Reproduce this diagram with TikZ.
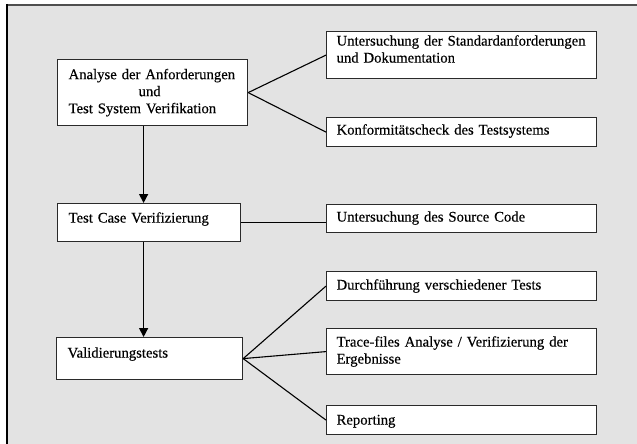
\documentclass[tikz,border=0pt]{standalone}
\usepackage{fontspec}
\setmainfont{Liberation Serif}[UprightFeatures={FakeBold=0.35}]
\usetikzlibrary{arrows.meta}
\definecolor{paneltint}{HTML}{E3E3E3}
\definecolor{framedark}{HTML}{4F4F4F}
\definecolor{boxline}{HTML}{2A2A2A}

\begin{document}
\begin{tikzpicture}[
  x=1pt, y=-1pt,
  stagebox/.style={rectangle, draw=boxline, fill=white, line width=1.2pt,
                   anchor=north west, align=left, inner xsep=11pt,
                   font=\fontsize{14.7}{17}\selectfont},
  taskbox/.style={rectangle, draw=boxline, fill=white, line width=1.2pt,
                  anchor=north west, align=left, inner xsep=10pt,
                  text width=250pt, font=\fontsize{14.7}{17}\selectfont},
  arrow/.style={-{Triangle[length=9pt,width=9pt]}, line width=1.4pt, black},
  link/.style={line width=1.1pt, black},
]
  % Panel
  \useasboundingbox (0,0) rectangle (637,444);
  \fill[white] (0,0) rectangle (637,444);
  \fill[paneltint] (7,5) rectangle (637,444);
  \draw[framedark, line width=2pt] (6,5) -- (637,5);
  \draw[black, line width=2pt] (7,4) -- (7,444);

  % Main steps
  \node[stagebox, text width=168pt, minimum height=66pt] (A) at (57,59)
        {Analyse der Anforderungen\\\hspace*{70pt}und\\Test System Verifikation};
  \node[stagebox, text width=161pt, text height=10pt, text depth=10pt,
        inner ysep=9pt] (B) at (57,203) {Test Case Verifizierung};
  \node[stagebox, text width=164pt, text height=10pt, text depth=12pt,
        inner ysep=10pt] (C) at (56,337) {Validierungstests};

  % Sub tasks
  \node[taskbox, text height=10pt, text depth=29pt, inner ysep=4pt] (R1) at (326,31)
        {Untersuchung der Standardanforderungen\\und Dokumentation};
  \node[taskbox, text height=10pt, text depth=5pt, inner ysep=7pt] (R2) at (326,117)
        {Konformitätscheck des Testsystems};
  \node[taskbox, text height=10pt, text depth=4pt, inner ysep=7pt] (R3) at (326,204)
        {Untersuchung des Source Code};
  \node[taskbox, text height=10pt, text depth=3pt, inner ysep=8pt] (R4) at (326,271)
        {Durchführung verschiedener Tests};
  \node[taskbox, text height=10pt, text depth=20pt, inner ysep=8pt] (R5) at (326,328)
        {Trace-files Analyse / Verifizierung der\\Ergebnisse};
  \node[taskbox, text height=11pt, text depth=2pt, inner ysep=8pt] (R6) at (326,405)
        {Reporting};

  % Flows
  \draw[arrow] ([xshift=-9pt]A.south) -- ([xshift=-9pt]A.south |- B.north);
  \draw[arrow] ([xshift=-9pt]A.south |- B.south) -- ([xshift=-9pt]A.south |- C.north);

  % Links to sub tasks
  \draw[link] (A.east) -- (R1.west);
  \draw[link] (A.east) -- (R2.west);
  \draw[link] (B.east) -- (B.east -| R3.west);
  \draw[link] (C.east) -- (R4.west);
  \draw[link] (C.east) -- (R5.west);
  \draw[link] (C.east) -- (R6.west);
\end{tikzpicture}
\end{document}
